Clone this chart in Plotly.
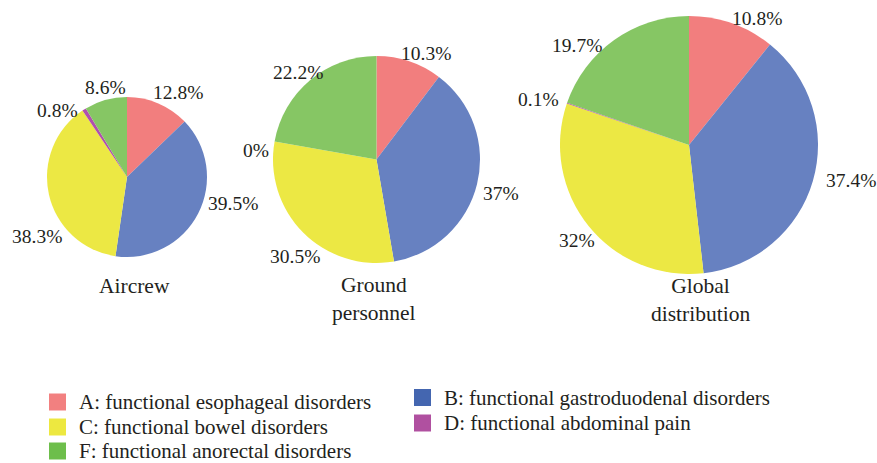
import plotly.graph_objects as go

W, H = 877, 463

categories = ["A", "B", "C", "D", "F"]
legend_labels = [
    "A: functional esophageal disorders",
    "B: functional gastroduodenal disorders",
    "C: functional bowel disorders",
    "D: functional abdominal pain",
    "F: functional anorectal disorders",
]
group_names = ["Aircrew", "Ground<br>personnel", "Global<br>distribution"]
aircrew = [12.8, 39.5, 38.3, 0.8, 8.6]
ground = [10.3, 37, 30.5, 0, 22.2]
global_dist = [10.8, 37.4, 32, 0.1, 19.7]
label_text = [
    ["12.8%", "39.5%", "38.3%", "0.8%", "8.6%"],
    ["10.3%", "37%", "30.5%", "0%", "22.2%"],
    ["10.8%", "37.4%", "32%", "0.1%", "19.7%"],
]

pie_colors = ["#F27E7E", "#6781C1", "#ECE844", "#B04FAE", "#86C664"]
legend_colors = ["#F28080", "#4466B0", "#EDE840", "#B050A0", "#6DBE4B"]

FONT = "Liberation Serif, Times New Roman, serif"
TXT = "#231F20"

# layout: pie centres and radii (pixels)
pies = [
    dict(cx=127, cy=177, r=80),
    dict(cx=376.5, cy=159.5, r=103.5),
    dict(cx=689, cy=145, r=129),
]
# label centre positions (pixels)
label_pos = [
    [(178, 92), (233, 203), (37, 236), (58, 110), (105, 87)],
    [(426, 53), (501, 193), (295, 256), (256, 150), (298, 72)],
    [(757, 18), (851, 180), (577, 241), (538, 100), (577, 45)],
]
title_pos = [(134, 286), (374, 299), (700, 300)]


def px(x):
    return x / W


def py(y):
    return 1 - y / H


fig = go.Figure()
series = [aircrew, ground, global_dist]
for i, vals in enumerate(series):
    p = pies[i]
    fig.add_trace(go.Pie(
        labels=categories,
        values=vals,
        sort=False,
        direction="clockwise",
        rotation=0,
        textinfo="none",
        hoverinfo="label+percent",
        marker=dict(colors=pie_colors, line=dict(width=0)),
        domain=dict(x=[px(p["cx"] - p["r"]), px(p["cx"] + p["r"])],
                    y=[py(p["cy"] + p["r"]), py(p["cy"] - p["r"])]),
        showlegend=False,
    ))
    for j, t in enumerate(label_text[i]):
        x, y = label_pos[i][j]
        fig.add_annotation(x=px(x), y=py(y), xref="paper", yref="paper",
                           text=t, showarrow=False, xanchor="center", yanchor="middle",
                           font=dict(family=FONT, size=19.5, color=TXT))
    tx, ty = title_pos[i]
    fig.add_annotation(x=px(tx), y=py(ty), xref="paper", yref="paper",
                       text=group_names[i], showarrow=False, xanchor="center", yanchor="middle",
                       font=dict(family=FONT, size=21.5, color=TXT))

# custom legend
legend_slots = {
    "A": (49, 402), "C": (49, 427), "F": (49, 451),
    "B": (414, 397.5), "D": (414, 423),
}
sq = 17
for k, c in enumerate(categories):
    x0, yc = legend_slots[c]
    fig.add_shape(type="rect", xref="paper", yref="paper",
                  x0=px(x0), x1=px(x0 + sq), y0=py(yc + sq / 2), y1=py(yc - sq / 2),
                  fillcolor=legend_colors[k], line=dict(width=0))
    fig.add_annotation(x=px(x0 + 29), y=py(yc), xref="paper", yref="paper",
                       text=legend_labels[k], showarrow=False, xanchor="left", yanchor="middle",
                       borderpad=0,
                       font=dict(family=FONT, size=21, color=TXT))

fig.update_layout(
    width=W, height=H,
    margin=dict(l=0, r=0, t=0, b=0),
    paper_bgcolor="white", plot_bgcolor="white",
    showlegend=False,
    font=dict(family=FONT),
)

fig.write_html("out.html", config={"displayModeBar": False},
               post_script="document.body.style.margin='0';document.body.style.overflow='hidden';")
